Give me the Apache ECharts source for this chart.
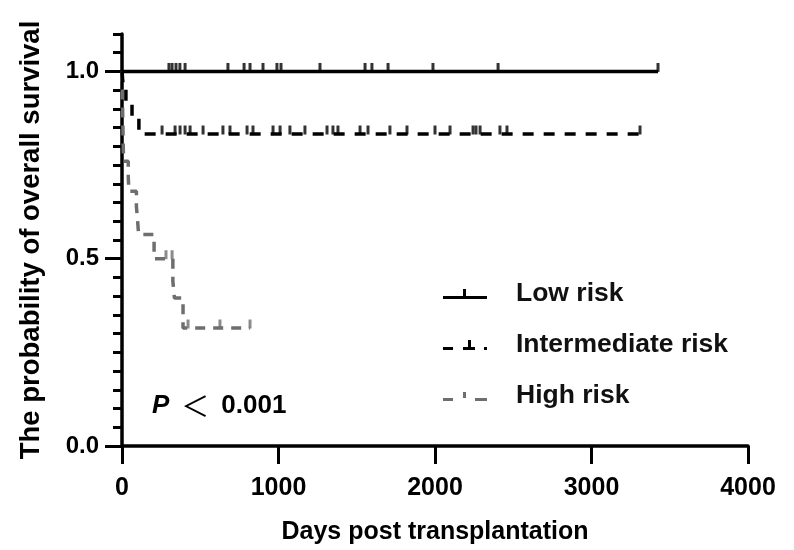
<!DOCTYPE html>
<html>
<head>
<meta charset="utf-8">
<script src="https://cdn.jsdelivr.net/npm/echarts@6/dist/echarts.min.js"></script>
<style>
  html, body { margin: 0; padding: 0; background: #fff; }
  #main { width: 794px; height: 550px; }
</style>
</head>
<body>
<div id="main"></div>
<script>
// Kaplan-Meier steps (days, survival)
var lowDays = [0, 3425];
var lowSurv = [1, 1];
var lowCensor = [300, 320, 345, 370, 403, 677, 780, 818, 901, 990, 1016, 1265, 1553, 1597, 1700, 1987, 2403, 3425];

var midDays = [0, 8, 25, 64, 108, 3310];
var midSurv = [1, 0.958, 0.917, 0.875, 0.833, 0.833];
var midCensor = [256, 339, 371, 403, 435, 518, 645, 690, 799, 837, 965, 1010, 1073, 1169, 1310, 1348, 1380,
  1521, 1572, 1712, 1821, 2000, 2096, 2243, 2262, 2288, 2415, 2460, 3310];

var highDays = [0, 2, 4, 6, 8, 10, 40, 44, 92, 100, 106, 205, 325, 335, 390, 818];
var highSurv = [1, 0.95, 0.9, 0.85, 0.8, 0.76, 0.72, 0.68, 0.64, 0.6, 0.565, 0.5, 0.44, 0.395, 0.315, 0.315];
var highCensor = [281, 320, 422, 626, 818];

var xTicks = [0, 1000, 2000, 3000, 4000];
var yTicks = [0, 0.5, 1.0];

var FONT = '"Liberation Sans", Arial, Helvetica, sans-serif';

function steps(days, surv) {
  var out = [];
  for (var i = 0; i < days.length; i++) out.push([days[i], surv[i]]);
  return out;
}
function survAt(days, surv, t) {
  var s = surv[0];
  for (var i = 0; i < days.length; i++) { if (days[i] <= t) s = surv[i]; }
  return s;
}
function censors(days, surv, list) {
  return list.map(function (t) { return [t, survAt(days, surv, t)]; });
}

var myChart = echarts.init(document.getElementById('main'));

var tickMark = { symbol: 'rect', symbolSize: [3, 9], symbolOffset: [0, -4] };

myChart.setOption({
  animation: false,
  grid: { left: 122, right: 46, top: 34, bottom: 100, containLabel: false },
  legend: {
    orient: 'vertical',
    left: 438,
    top: 274,
    itemWidth: 44,
    itemHeight: 10,
    itemGap: 21,
    symbolKeepAspect: false,
    itemStyle: { borderWidth: 0 },
    textStyle: { fontFamily: FONT, fontSize: 26.5, fontWeight: 'bold', color: '#111', lineHeight: 30, padding: [0, 0, 0, 24] },
    data: [
      { name: 'Low risk', icon: 'path://M0,7h44v3H0z M20,0h3v7h-3z' },
      { name: 'Intermediate risk', icon: 'path://M0,7h10v3H0z M20,7h12v3H20z M25,0h3v7h-3z M41,7h3v3h-3z' },
      { name: 'High risk', icon: 'path://M0,7h10v3H0z M20,1h3v6h-3z M32,7h12v3H32z M0,0h0.01v0.01H0z' }
    ]
  },
  xAxis: {
    type: 'value',
    min: 0,
    max: 4000,
    interval: 1000,
    name: 'Days post transplantation',
    nameLocation: 'middle',
    nameGap: 74,
    nameTextStyle: { fontFamily: FONT, fontSize: 25, fontWeight: 'bold', color: '#000' },
    axisLine: { lineStyle: { color: '#000', width: 3.5 } },
    axisTick: { length: 18, lineStyle: { color: '#000', width: 3 }, customValues: xTicks },
    axisLabel: {
      fontFamily: FONT, fontSize: 25, fontWeight: 'bold', color: '#000', margin: 30,
      customValues: xTicks,
      formatter: function (v) { return String(v); }
    },
    splitLine: { show: false }
  },
  yAxis: [{
    type: 'value',
    min: 0,
    max: 1.1,
    interval: 0.5,
    name: 'The probability of overall survival',
    nameLocation: 'middle',
    nameGap: 77,
    nameTextStyle: { fontFamily: FONT, fontSize: 27.5, fontWeight: 'bold', color: '#000' },
    axisLine: { lineStyle: { color: '#000', width: 3.5 } },
    axisTick: { length: 17, lineStyle: { color: '#000', width: 3 }, customValues: yTicks },
    axisLabel: {
      fontFamily: FONT, fontSize: 24, fontWeight: 'bold', color: '#000', margin: 23,
      customValues: yTicks,
      formatter: function (v) { return v.toFixed(1); }
    },
    splitLine: { show: false }
  }, {
    // minor ticks every 0.05
    type: 'value',
    position: 'left',
    min: 0,
    max: 1.1,
    interval: 0.05,
    axisLine: { show: false },
    axisTick: { length: 9, lineStyle: { color: '#000', width: 3 } },
    axisLabel: { show: false },
    splitLine: { show: false }
  }],
  graphic: [{
    type: 'text',
    left: 152,
    top: 392,
    style: {
      text: '{i|P}{lt|＜}{n|0.001}',
      fill: '#000',
      rich: {
        i: { fontStyle: 'italic', fontWeight: 'bold', fontSize: 26, fontFamily: FONT, padding: [0, 12, 0, 0] },
        lt: { fontSize: 28, fontWeight: 'normal', fontFamily: '"Noto Sans CJK SC", sans-serif', padding: [0, 12, 0, 0] },
        n: { fontWeight: 'bold', fontSize: 26, fontFamily: FONT }
      }
    }
  }],
  series: [
    {
      name: 'High risk', type: 'line', step: 'end', showSymbol: false, color: '#6e6e6e',
      lineStyle: { color: '#6e6e6e', width: 3.5, type: [10, 8] },
      data: steps(highDays, highSurv), z: 2
    },
    {
      name: 'high-censor', type: 'scatter', color: '#6e6e6e', symbol: tickMark.symbol,
      symbolSize: tickMark.symbolSize, symbolOffset: tickMark.symbolOffset,
      data: censors(highDays, highSurv, highCensor), z: 2
    },
    {
      name: 'Intermediate risk', type: 'line', step: 'end', showSymbol: false, color: '#000',
      lineStyle: { color: '#000', width: 3.5, type: [11, 10] },
      data: steps(midDays, midSurv), z: 3
    },
    {
      name: 'mid-censor', type: 'scatter', color: '#000', symbol: tickMark.symbol,
      symbolSize: tickMark.symbolSize, symbolOffset: tickMark.symbolOffset,
      data: censors(midDays, midSurv, midCensor), z: 3
    },
    {
      name: 'Low risk', type: 'line', step: 'end', showSymbol: false, color: '#000',
      lineStyle: { color: '#000', width: 3.5 },
      data: steps(lowDays, lowSurv), z: 4
    },
    {
      name: 'low-censor', type: 'scatter', color: '#000', symbol: tickMark.symbol,
      symbolSize: tickMark.symbolSize, symbolOffset: tickMark.symbolOffset,
      data: censors(lowDays, lowSurv, lowCensor), z: 4
    }
  ]
});
window.onresize = function () {
  myChart.resize();
};
</script>
</body>
</html>
